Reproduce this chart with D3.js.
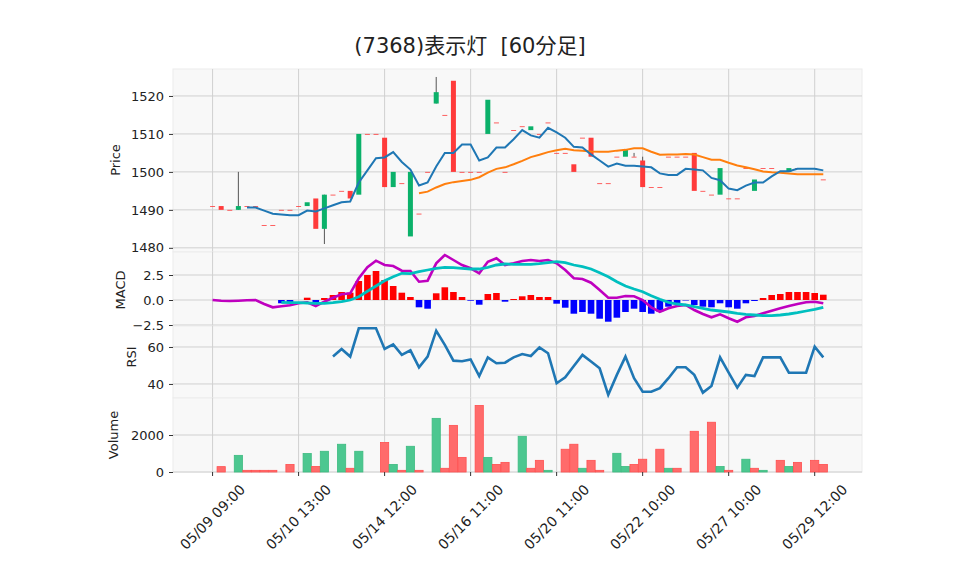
<!DOCTYPE html>
<html>
<head>
<meta charset="utf-8">
<script src="https://cdn.jsdelivr.net/npm/d3@7"></script>
<style>
body { margin: 0; background: #fff; }
text { font-family: "DejaVu Sans", "Noto Sans CJK JP", sans-serif; }
</style>
</head>
<body>
<div id="chart"></div>
<script>
// 60 minute bars, index 0..71
const opens  = [1491,1491,1490,1490,1491,1491,1486,1486,1490,1490,1491,1491,1493,1485,1494,1495,1495,1494,1510,1510,1509,1496,1497,1483,1489,1500,1518,1515,1524,1500,1500,1500,1510,1513,1500,1511,1512,1511,1510,1513,1505,1505,1502,1509,1509,1497,1497,1504,1504,1504,1503,1496,1496,1504,1504,1504,1505,1495,1494,1494,1493,1493,1501,1495,1501,1501,1500,1500,1501,1501,1501,1498]
const highs  = [1491,1491,1490,1500,1491,1491,1486,1486,1490,1490,1491,1492,1493,1494,1494,1495,1495,1510,1510,1510,1509,1500,1497,1500,1489,1500,1525,1515,1524,1500,1500,1500,1519,1513,1500,1511,1512,1512,1510,1513,1505,1505,1502,1509,1509,1497,1497,1504,1506,1505,1504,1496,1496,1504,1504,1504,1505,1495,1494,1501,1493,1493,1501,1498,1501,1501,1500,1501,1501,1501,1501,1498]
const lows   = [1491,1490,1490,1490,1491,1491,1486,1486,1490,1490,1491,1491,1485,1481,1494,1495,1493,1494,1510,1510,1496,1496,1497,1483,1489,1500,1518,1515,1500,1500,1500,1500,1510,1513,1500,1511,1512,1511,1510,1513,1505,1505,1500,1509,1504,1497,1497,1504,1504,1504,1496,1496,1496,1504,1504,1504,1495,1495,1494,1494,1493,1493,1501,1495,1501,1501,1500,1500,1501,1501,1501,1498]
const closes = [1491,1490,1490,1491,1491,1491,1486,1486,1490,1490,1491,1492,1485,1494,1494,1495,1493,1510,1510,1510,1496,1500,1497,1500,1489,1500,1521,1515,1500,1500,1500,1500,1519,1513,1500,1511,1512,1512,1510,1513,1505,1505,1500,1509,1504,1497,1497,1504,1506,1504,1496,1496,1496,1504,1504,1504,1495,1495,1494,1501,1493,1493,1501,1498,1501,1501,1500,1501,1501,1501,1501,1498]
const volumes = [0,290,0,900,90,90,90,90,0,410,0,1000,300,1120,0,1500,200,1120,0,0,1600,410,90,1390,90,0,2900,200,2520,790,0,3600,790,410,520,0,1930,200,630,90,0,1230,1500,200,630,90,0,1010,300,410,690,0,1230,200,200,0,2200,0,2690,300,90,0,690,200,90,0,630,300,520,0,630,410]

const ma5 = [null,null,null,null,1490.6,1490.6,1489.8,1489.0,1488.8,1488.6,1488.6,1489.8,1489.6,1490.4,1491.2,1492.0,1492.2,1497.2,1500.4,1503.6,1503.8,1505.2,1502.6,1500.6,1496.4,1497.2,1501.4,1505.0,1505.0,1507.2,1507.2,1503.0,1503.8,1506.4,1506.4,1508.6,1511.0,1509.6,1509.0,1511.6,1510.4,1509.0,1506.6,1506.4,1504.6,1503.0,1501.4,1502.2,1501.6,1501.6,1501.4,1501.2,1499.6,1499.2,1499.2,1500.8,1500.6,1500.4,1498.4,1497.8,1495.6,1495.2,1496.4,1497.2,1497.2,1498.8,1500.2,1500.2,1500.8,1500.8,1500.8,1500.4]
const ma25 = [null,null,null,null,null,null,null,null,null,null,null,null,null,null,null,null,null,null,null,null,null,null,null,null,1494.4,1494.8,1495.9,1496.8,1497.3,1497.6,1497.9,1498.6,1499.8,1500.8,1501.2,1502.0,1502.9,1503.9,1504.5,1505.2,1505.7,1506.1,1505.7,1505.6,1505.4,1505.3,1505.3,1505.6,1505.8,1506.2,1506.2,1505.3,1504.5,1504.6,1504.6,1504.7,1504.6,1503.9,1503.2,1503.2,1502.4,1501.7,1501.2,1500.7,1500.1,1499.9,1499.8,1499.6,1499.4,1499.4,1499.4,1499.4]

const macd = [0.0,-0.07,-0.1,-0.07,-0.03,0.0,-0.4,-0.73,-0.63,-0.53,-0.33,-0.23,-0.6,-0.17,0.23,0.57,0.67,2.17,3.27,3.93,3.5,3.4,2.93,2.9,1.83,1.93,3.67,4.5,4.0,3.5,3.17,2.67,3.83,4.17,3.5,3.67,3.9,4.0,3.9,4.0,3.67,3.0,2.17,2.1,1.73,1.0,0.23,0.23,0.4,0.37,0.0,-0.73,-1.17,-0.83,-0.6,-0.5,-1.0,-1.4,-1.73,-1.43,-1.83,-2.17,-1.73,-1.6,-1.33,-1.07,-0.83,-0.6,-0.4,-0.23,-0.17,-0.33]
const signal = [null,null,null,null,null,null,null,null,-0.23,-0.27,-0.27,-0.3,-0.33,-0.33,-0.27,-0.17,0.0,0.33,0.87,1.4,1.93,2.33,2.67,2.63,2.83,3.0,3.17,3.27,3.23,3.17,3.1,3.1,3.27,3.5,3.6,3.57,3.57,3.57,3.63,3.73,3.83,3.73,3.5,3.33,3.1,2.73,2.33,1.83,1.4,1.1,0.83,0.43,0.07,-0.23,-0.4,-0.5,-0.67,-0.83,-1.0,-1.1,-1.2,-1.33,-1.43,-1.5,-1.57,-1.57,-1.5,-1.4,-1.27,-1.1,-0.93,-0.73]
const hist = [null,null,null,null,null,null,null,null,-0.33,-0.3,0.0,0.23,-0.27,0.2,0.5,0.8,0.73,1.9,2.5,2.9,2.0,1.4,0.73,0.3,-0.73,-0.87,0.67,1.27,0.8,0.3,-0.07,-0.47,0.6,0.7,-0.17,0.1,0.37,0.5,0.3,0.3,-0.37,-0.77,-1.37,-1.2,-1.37,-1.87,-2.17,-1.77,-1.2,-0.87,-1.2,-1.37,-1.2,-0.67,-0.33,-0.05,-0.5,-0.67,-0.73,-0.33,-0.73,-0.87,-0.33,-0.1,0.2,0.5,0.6,0.8,0.8,0.8,0.7,0.53]
const rsi = [null,null,null,null,null,null,null,null,null,null,null,null,null,null,54.8,58.9,54.8,70.1,70.1,70.1,58.9,61.4,55.7,58.2,49.0,54.8,68.8,61.1,52.6,52.3,53.3,44.3,54.4,51.2,51.5,54.4,56.2,55.1,59.8,56.6,40.4,43.6,49.7,55.7,52.1,48.5,34.1,44.9,54.8,43.1,35.8,35.8,37.7,43.1,49.0,49.0,44.9,35.3,38.9,54.4,46.1,38.0,44.9,44.3,54.4,54.4,54.4,46.1,46.1,46.1,60.2,54.4]

const tickIdx = [0,10,20,30,40,50,60,70]
const tickLabels = ['05/09 09:00','05/10 13:00','05/14 12:00','05/16 11:00','05/20 11:00','05/22 10:00','05/27 10:00','05/29 12:00']
const priceTicks = [1480,1490,1500,1510,1520]
const macdTicks = [-2.5,0,2.5]
const rsiTicks = [40,60]
const volTicks = [0,2000]

init()

function init(){
    const W = 958, H = 575
    const left = 173, right = 862

    let svg = d3.select('#chart')
                .append('svg')
                .attr('width',W)
                .attr('height',H)
                .style('background','#fff')

    svg.append('text')
        .attr('x',470)
        .attr('y',53)
        .attr('text-anchor','middle')
        .attr('xml:space','preserve')
        .style('white-space','pre')
        .style('font-size','21px')
        .style('fill','#222')
        .text('(7368)表示灯  [60分足]')

    const x = d3.scaleLinear().domain([-4.6,75.5]).range([left,right])

    const yPrice = d3.scaleLinear().domain([1478.9,1527.1]).range([252,69])
    const yMacd  = d3.scaleLinear().domain([-2.6,4.8]).range([326,252])
    const yRsi   = d3.scaleLinear().domain([32.4,71.35]).range([398,326])
    const yVol   = d3.scaleLinear().domain([0,4000]).range([472,398])

    const panels = [
        {y:yPrice, ticks:priceTicks, fmt:d=>d},
        {y:yMacd, ticks:macdTicks, fmt:d=>d.toFixed(1).replace('-','\u2212')},
        {y:yRsi, ticks:rsiTicks, fmt:d=>d},
        {y:yVol, ticks:volTicks, fmt:d=>d}
    ]

    panels.forEach(p => {
        const [y0,y1] = p.y.range()
        svg.append('rect')
            .attr('x',left).attr('y',y1)
            .attr('width',right-left).attr('height',y0-y1)
            .style('fill','#f8f8f8')
            .style('stroke','#ececec')
            .style('stroke-width',1)

        // vertical grid
        svg.append('g').selectAll('line')
            .data(tickIdx).join('line')
            .attr('x1',d=>x(d)).attr('x2',d=>x(d))
            .attr('y1',y1).attr('y2',y0)
            .style('stroke','#d0d0d0').style('stroke-width',1)

        // horizontal grid
        svg.append('g').selectAll('line')
            .data(p.ticks).join('line')
            .attr('x1',left).attr('x2',right)
            .attr('y1',d=>p.y(d)).attr('y2',d=>p.y(d))
            .style('stroke','#d0d0d0').style('stroke-width',1)

        const ax = svg.append('g')
            .attr('transform',`translate(${left},0)`)
            .call(d3.axisLeft(p.y).tickValues(p.ticks).tickFormat(p.fmt).tickSize(4).tickPadding(5))
        ax.select('.domain').remove()
        ax.selectAll('line').style('stroke','#333')
        ax.selectAll('text').style('font-size','13px').style('fill','#222')
            .style('font-family','"DejaVu Sans", sans-serif')
    })

    // y axis titles
    const titles = [['Price',120,160],['MACD',125,290],['RSI',136,357],['Volume',118,435]]
    titles.forEach(t => {
        svg.append('text')
            .attr('transform',`translate(${t[1]},${t[2]}) rotate(-90)`)
            .attr('text-anchor','middle')
            .style('font-size','13px')
            .style('fill','#222')
            .text(t[0])
    })

    const idx = d3.range(opens.length)

    // candles
    const cw = 5
    let candles = svg.append('g')
    candles.selectAll('line')
        .data(idx.filter(i => highs[i] > Math.max(opens[i],closes[i]) || lows[i] < Math.min(opens[i],closes[i])))
        .join('line')
        .attr('x1',i=>x(i)).attr('x2',i=>x(i))
        .attr('y1',i=>yPrice(highs[i])).attr('y2',i=>yPrice(lows[i]))
        .style('stroke','#555').style('stroke-width',1)

    candles.selectAll('rect')
        .data(idx).join('rect')
        .attr('x',i=>x(i)-cw/2)
        .attr('width',cw)
        .attr('y',i=>yPrice(Math.max(opens[i],closes[i])))
        .attr('height',i=>Math.max(Math.abs(yPrice(opens[i])-yPrice(closes[i])),0.8))
        .style('fill',i=> closes[i] > opens[i] ? '#0bb16a' : '#ff3b3b')

    // moving averages
    const line = (ys, arr) => d3.line()
        .defined(i => arr[i] != null)
        .x(i => x(i))
        .y(i => ys(arr[i]))

    svg.append('path')
        .attr('d', line(yPrice, ma25)(idx))
        .style('fill','none').style('stroke','#ff7f0e').style('stroke-width',2)

    svg.append('path')
        .attr('d', line(yPrice, ma5)(idx))
        .style('fill','none').style('stroke','#1f77b4').style('stroke-width',2)

    // macd histogram
    svg.append('g').selectAll('rect')
        .data(idx.filter(i => hist[i] != null && hist[i] != 0))
        .join('rect')
        .attr('x',i=>x(i)-3.3)
        .attr('width',6.6)
        .attr('y',i=>yMacd(Math.max(0,hist[i])))
        .attr('height',i=>Math.abs(yMacd(hist[i])-yMacd(0)))
        .style('fill',i=> hist[i] > 0 ? '#ff0000' : '#0000ff')

    svg.append('path')
        .attr('d', line(yMacd, macd)(idx))
        .style('fill','none').style('stroke','#bf00bf').style('stroke-width',2.6)

    svg.append('path')
        .attr('d', line(yMacd, signal)(idx))
        .style('fill','none').style('stroke','#00bfbf').style('stroke-width',2.8)

    // rsi
    svg.append('path')
        .attr('d', line(yRsi, rsi)(idx))
        .style('fill','none').style('stroke','#1f77b4').style('stroke-width',2.6)

    // volume, coloured by close against previous close
    const up = i => i > 0 && closes[i] > closes[i-1]
    const vw = 8.2
    svg.append('g').selectAll('rect')
        .data(idx.filter(i => volumes[i] > 0))
        .join('rect')
        .attr('x',i=>x(i)-vw/2)
        .attr('width',vw)
        .attr('y',i=>yVol(volumes[i]))
        .attr('height',i=>yVol(0)-yVol(volumes[i]))
        .style('fill',i=> up(i) ? '#4cc790' : '#ff6b6b')
        .style('stroke',i=> up(i) ? '#3dbb80' : '#ff5050')
        .style('stroke-width',0.8)

    // x axis
    const xa = svg.append('g')
        .attr('transform','translate(0,472)')
    xa.selectAll('line')
        .data(tickIdx).join('line')
        .attr('x1',d=>x(d)).attr('x2',d=>x(d))
        .attr('y1',0).attr('y2',4)
        .style('stroke','#333')
    xa.selectAll('text')
        .data(tickIdx).join('text')
        .attr('transform',d=>`translate(${x(d)},${45}) rotate(-45)`)
        .attr('text-anchor','middle')
        .attr('dy','0.35em')
        .style('font-size','14px')
        .style('fill','#222')
        .text((d,k)=>tickLabels[k])
}
</script>
</body>
</html>
